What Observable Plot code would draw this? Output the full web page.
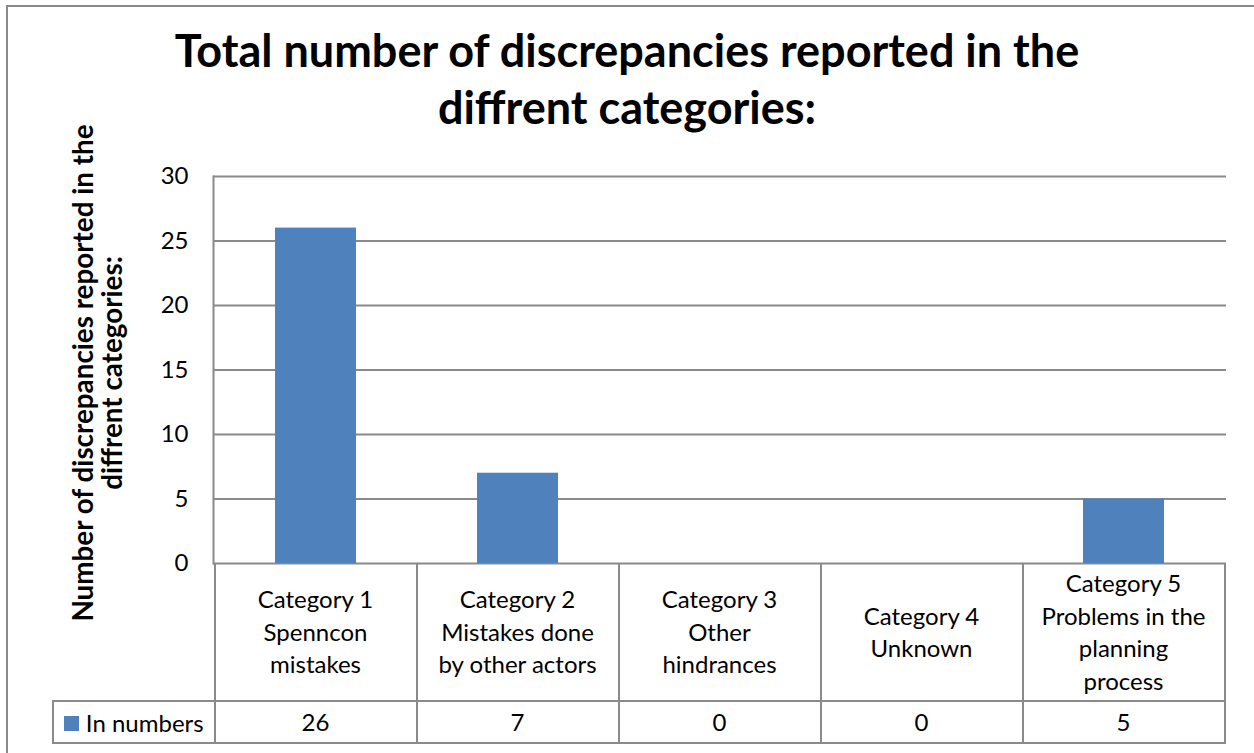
<!DOCTYPE html>
<html><head><meta charset="utf-8">
<script src="https://cdn.jsdelivr.net/npm/d3@7"></script>
<script src="https://cdn.jsdelivr.net/npm/@observablehq/plot@0.6"></script>
<style>
body{margin:0;background:#fff;font-family:Lato,"Open Sans",sans-serif;}
#wrap{position:relative;width:1254px;height:753px;overflow:hidden;background:#fff}
#frame{position:absolute;left:6px;top:5px;width:1300px;height:800px;border:2px solid #8a8a8a;box-sizing:border-box}
#title{position:absolute;left:0;top:22px;width:1254px;text-align:center;font-weight:bold;font-size:45px;line-height:57px;color:#000}
#chart{position:absolute;left:0;top:0}
.cell{position:absolute;box-sizing:border-box;display:flex;align-items:center;justify-content:center;text-align:center;font-size:24px;line-height:32.5px;color:#000;white-space:pre-line}
.ln{position:absolute;background:#8a8a8a}
</style></head><body>
<div id="wrap"><div id="frame"></div><div id="chart"></div>
<div id="title">Total number of discrepancies reported in the<br>diffrent categories:</div></div>
<script>
const categories = ["Category 1\nSpenncon\nmistakes", "Category 2\nMistakes done\nby other actors", "Category 3\nOther\nhindrances", "Category 4\nUnknown", "Category 5\nProblems in the\nplanning\nprocess"];
const values = [26, 7, 0, 0, 5];
const seriesName = "In numbers";
const yTicks = [0, 5, 10, 15, 20, 25, 30];
const yLabel = "Number of discrepancies reported in the\ndiffrent categories:";
const barColor = "#4f81bd";
const lineColor = "#8a8a8a";

const data = categories.map((c, i) => ({category: c, value: values[i]}));

const chart = Plot.plot({
  width: 1254, height: 753,
  marginLeft: 213, marginRight: 28, marginTop: 176, marginBottom: 190,
  style: {fontFamily: "Lato, 'Open Sans', sans-serif", fontSize: "24px", color: "#000", background: "transparent", overflow: "visible"},
  x: {domain: categories, paddingInner: 0.6, paddingOuter: 0.3, axis: null},
  y: {domain: [0, 30], axis: null},
  marks: [
    Plot.ruleY(yTicks, {stroke: lineColor, strokeWidth: 2, strokeOpacity: 1}),
    Plot.frame({anchor: "left", stroke: lineColor, strokeWidth: 2, strokeOpacity: 1}),
    Plot.barY(data, {x: "category", y: "value", fill: barColor}),
    Plot.axisY(yTicks, {tickSize: 0, tickPadding: 25, fontSize: 24, label: null, fill: "#000"}),
    Plot.text([yLabel], {frameAnchor: "left", textAnchor: "middle", lineAnchor: "middle", rotate: -90, dx: -115, dy: 3, fontWeight: "bold", fontSize: 27.8, lineHeight: 1.02, fill: "#000"})
  ]
});
document.getElementById("chart").appendChild(chart);

const wrap = document.getElementById("wrap");
const xs = chart.scale("x");
const ys = chart.scale("y");
const step = xs.step;
const top0 = ys.apply(0);
const rowBottom = 701, tableBottom = 743, legendLeft = 53;
const left0 = xs.apply(categories[0]) + xs.bandwidth / 2 - step / 2;
const right0 = left0 + step * categories.length;

function line(x, y, w, h) {
  const d = document.createElement("div");
  d.className = "ln";
  d.style.left = x + "px"; d.style.top = y + "px"; d.style.width = w + "px"; d.style.height = h + "px";
  wrap.appendChild(d);
}
function cell(x, y, w, h, txt) {
  const d = document.createElement("div");
  d.className = "cell";
  d.style.left = x + "px"; d.style.top = y + "px"; d.style.width = w + "px"; d.style.height = h + "px";
  if (typeof txt === "string") d.textContent = txt; else d.appendChild(txt);
  wrap.appendChild(d);
}
categories.forEach((c, i) => {
  const cx = xs.apply(c) + xs.bandwidth / 2;
  cell(cx - step / 2, top0, step, rowBottom - top0, c);
  cell(cx - step / 2, rowBottom, step, tableBottom - rowBottom, String(values[i]));
});
for (let k = 0; k <= categories.length; k++) line(left0 + k * step - 1, top0, 2, tableBottom - top0 + 1);
line(legendLeft - 1, rowBottom - 1, right0 - legendLeft + 2, 2);
line(legendLeft - 1, tableBottom - 1, right0 - legendLeft + 2, 2);
line(legendLeft - 1, rowBottom - 1, 2, tableBottom - rowBottom + 2);
const leg = document.createElement("span");
leg.innerHTML = `<span style="display:inline-block;width:15px;height:15px;background:${barColor};margin-right:7px;vertical-align:middle"></span><span style="vertical-align:middle">${seriesName}</span>`;
cell(legendLeft, rowBottom, left0 - legendLeft, tableBottom - rowBottom, leg);
</script>
</body></html>
